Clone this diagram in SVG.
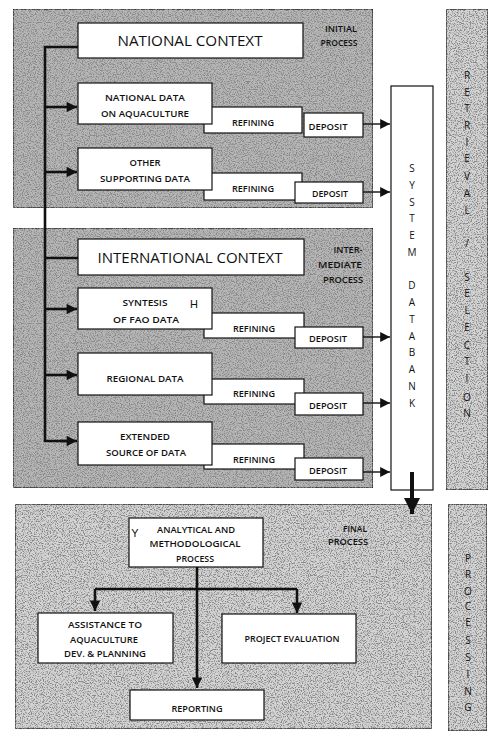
<svg xmlns="http://www.w3.org/2000/svg" width="500" height="741" viewBox="0 0 500 741">
<defs>
<filter id="grain" x="0" y="0" width="100%" height="100%">
<feTurbulence type="fractalNoise" baseFrequency="0.85" numOctaves="2" seed="7" result="n"/>
<feColorMatrix in="n" type="matrix" values="0 0 0 0 0.25  0 0 0 0 0.25  0 0 0 0 0.25  -5 0 0 0 2.7" result="dots"/>
<feComposite in="dots" in2="SourceGraphic" operator="in" result="d2"/>
<feMerge><feMergeNode in="SourceGraphic"/><feMergeNode in="d2"/></feMerge>
</filter>
<marker id="ah" viewBox="0 0 10 10" refX="10" refY="5" markerWidth="5" markerHeight="4" markerUnits="strokeWidth" orient="auto">
<path d="M0,0 L10,5 L0,10 z" fill="#111"/>
</marker>
<marker id="ahs" viewBox="0 0 10 10" refX="10" refY="5" markerWidth="8" markerHeight="7" markerUnits="strokeWidth" orient="auto">
<path d="M0,0 L10,5 L0,10 z" fill="#111"/>
</marker>
<style>
.panel{fill:#b6b6b6;stroke:#222;stroke-width:1.5;filter:url(#grain)}
.panelL{fill:#d4d4d4;stroke:#222;stroke-width:1.5;filter:url(#grain)}
.box{fill:#fff;stroke:#111;stroke-width:1.2}
.t{font-family:"Open Sans","Noto Sans","Liberation Sans",sans-serif;fill:#111;text-anchor:middle;font-weight:600}
.big{font-size:15px;font-weight:400}
.sm{font-size:8.5px}
.xs{font-size:8px}
.col{font-size:10px;font-weight:400}
.thick{stroke:#111;stroke-width:2.6;fill:none}
.thin{stroke:#111;stroke-width:1.4;fill:none}
.mark{font-family:"Liberation Sans",sans-serif;font-size:11px;fill:#111;text-anchor:middle}
</style>
</defs>

<g id="panel-initial">
<rect class="panel" x="13" y="9" width="360" height="199"/>
<text class="t xs" x="341" y="32" textLength="32" lengthAdjust="spacingAndGlyphs">INITIAL</text>
<text class="t xs" x="339" y="46" textLength="37" lengthAdjust="spacingAndGlyphs">PROCESS</text>
</g>
<g id="panel-intermediate">
<rect class="panel" x="13" y="228" width="360" height="260"/>
<text class="t xs" x="348" y="253" textLength="29" lengthAdjust="spacingAndGlyphs">INTER-</text>
<text class="t xs" x="340" y="268" textLength="44" lengthAdjust="spacingAndGlyphs">MEDIATE</text>
<text class="t xs" x="343" y="283" textLength="40" lengthAdjust="spacingAndGlyphs">PROCESS</text>
</g>
<g id="panel-final">
<rect class="panelL" x="15" y="504" width="417" height="225"/>
<text class="t xs" x="355" y="532" textLength="24" lengthAdjust="spacingAndGlyphs">FINAL</text>
<text class="t xs" x="348" y="545" textLength="40" lengthAdjust="spacingAndGlyphs">PROCESS</text>
</g>

<g id="retrieval-selection">
<rect class="panelL" x="446" y="9" width="42" height="481"/>
<g class="t col">
<text x="467" y="79">R</text><text x="467" y="96">E</text><text x="467" y="112">T</text><text x="467" y="129">R</text><text x="467" y="146">I</text><text x="467" y="162">E</text><text x="467" y="180">V</text><text x="467" y="197">A</text><text x="467" y="214">L</text><text x="467" y="247">/</text><text x="467" y="281">S</text><text x="467" y="297">E</text><text x="467" y="314">L</text><text x="467" y="331">E</text><text x="467" y="349">C</text><text x="467" y="365">T</text><text x="467" y="382">I</text><text x="467" y="401">O</text><text x="467" y="417">N</text>
</g>
</g>
<g id="processing">
<rect class="panelL" x="448" y="504" width="39" height="227"/>
<g class="t col">
<text x="468" y="562">P</text><text x="468" y="578">R</text><text x="468" y="595">O</text><text x="468" y="610">C</text><text x="468" y="626">E</text><text x="468" y="644">S</text><text x="468" y="661">S</text><text x="468" y="678">I</text><text x="468" y="695">N</text><text x="468" y="711">G</text>
</g>
</g>

<g id="databank">
<rect class="box" x="391" y="86" width="42" height="404"/>
<g class="t col">
<text x="412" y="172">S</text><text x="412" y="189">Y</text><text x="412" y="206">S</text><text x="412" y="222">T</text><text x="412" y="239">E</text><text x="412" y="256">M</text><text x="412" y="289">D</text><text x="412" y="306">A</text><text x="412" y="323">T</text><text x="412" y="340">A</text><text x="412" y="356">B</text><text x="412" y="373">A</text><text x="412" y="390">N</text><text x="412" y="407">K</text>
</g>
</g>

<g id="connectors">
<polyline class="thick" points="78,47 45,47 45,441 66,441"/>
<line class="thick" x1="45" y1="258" x2="78" y2="258"/>
<line class="thick" x1="45" y1="107" x2="77" y2="107" marker-end="url(#ah)"/>
<line class="thick" x1="45" y1="172" x2="77" y2="172" marker-end="url(#ah)"/>
<line class="thick" x1="45" y1="309" x2="77" y2="309" marker-end="url(#ah)"/>
<line class="thick" x1="45" y1="375" x2="77" y2="375" marker-end="url(#ah)"/>
<line class="thick" x1="60" y1="441" x2="77" y2="441" marker-end="url(#ah)"/>
<line class="thin" x1="363" y1="124" x2="390" y2="124" marker-end="url(#ahs)"/>
<line class="thin" x1="363" y1="192" x2="390" y2="192" marker-end="url(#ahs)"/>
<line class="thin" x1="363" y1="337" x2="390" y2="337" marker-end="url(#ahs)"/>
<line class="thin" x1="363" y1="403" x2="390" y2="403" marker-end="url(#ahs)"/>
<line class="thin" x1="363" y1="472" x2="390" y2="472" marker-end="url(#ahs)"/>
<line x1="412" y1="472" x2="412" y2="514" stroke="#111" stroke-width="4" marker-end="url(#ah)"/>
<line class="thick" x1="197" y1="567" x2="197" y2="688" marker-end="url(#ah)"/>
<line class="thick" x1="95" y1="589" x2="297" y2="589"/>
<line class="thick" x1="95" y1="589" x2="95" y2="611" marker-end="url(#ah)"/>
<line class="thick" x1="297" y1="589" x2="297" y2="613" marker-end="url(#ah)"/>
</g>

<g id="national-context">
<rect class="box" x="78" y="23" width="225" height="35"/>
<text class="t big" x="190" y="46" textLength="145" lengthAdjust="spacingAndGlyphs">NATIONAL CONTEXT</text>
</g>
<g id="refining-1">
<rect class="box" x="204" y="107" width="98" height="26"/>
<text class="t sm" x="253" y="126" textLength="42" lengthAdjust="spacingAndGlyphs">REFINING</text>
</g>
<g id="deposit-1">
<rect class="box" x="304" y="113" width="59" height="24"/>
<text class="t sm" x="328" y="130" textLength="39" lengthAdjust="spacingAndGlyphs">DEPOSIT</text>
</g>
<g id="national-data">
<rect class="box" x="78" y="83" width="134" height="41"/>
<text class="t sm" x="145" y="101" textLength="80" lengthAdjust="spacingAndGlyphs">NATIONAL DATA</text>
<text class="t sm" x="145" y="117" textLength="88" lengthAdjust="spacingAndGlyphs">ON AQUACULTURE</text>
</g>
<g id="refining-2">
<rect class="box" x="204" y="173" width="98" height="27"/>
<text class="t sm" x="253" y="192" textLength="42" lengthAdjust="spacingAndGlyphs">REFINING</text>
</g>
<g id="deposit-2">
<rect class="box" x="295" y="182" width="68" height="21"/>
<text class="t sm" x="330" y="197" textLength="36" lengthAdjust="spacingAndGlyphs">DEPOSIT</text>
</g>
<g id="other-data">
<rect class="box" x="78" y="148" width="134" height="42"/>
<text class="t sm" x="145" y="166" textLength="31" lengthAdjust="spacingAndGlyphs">OTHER</text>
<text class="t sm" x="145" y="182" textLength="90" lengthAdjust="spacingAndGlyphs">SUPPORTING DATA</text>
</g>

<g id="international-context">
<rect class="box" x="78" y="239" width="226" height="36"/>
<text class="t big" x="190" y="263" textLength="185" lengthAdjust="spacingAndGlyphs">INTERNATIONAL CONTEXT</text>
</g>
<g id="refining-3">
<rect class="box" x="204" y="313" width="100" height="25"/>
<text class="t sm" x="254" y="332" textLength="42" lengthAdjust="spacingAndGlyphs">REFINING</text>
</g>
<g id="deposit-3">
<rect class="box" x="295" y="327" width="68" height="21"/>
<text class="t sm" x="328" y="342" textLength="38" lengthAdjust="spacingAndGlyphs">DEPOSIT</text>
</g>
<g id="syntesis">
<rect class="box" x="78" y="288" width="134" height="41"/>
<text class="t sm" x="145" y="306" textLength="45" lengthAdjust="spacingAndGlyphs">SYNTESIS</text>
<text class="t sm" x="146" y="323" textLength="66" lengthAdjust="spacingAndGlyphs">OF FAO DATA</text>
<text class="mark" x="194" y="308">H</text>
</g>
<g id="refining-4">
<rect class="box" x="204" y="379" width="100" height="25"/>
<text class="t sm" x="254" y="397" textLength="42" lengthAdjust="spacingAndGlyphs">REFINING</text>
</g>
<g id="deposit-4">
<rect class="box" x="295" y="393" width="68" height="22"/>
<text class="t sm" x="328" y="409" textLength="38" lengthAdjust="spacingAndGlyphs">DEPOSIT</text>
</g>
<g id="regional-data">
<rect class="box" x="78" y="353" width="134" height="42"/>
<text class="t sm" x="145" y="382" textLength="77" lengthAdjust="spacingAndGlyphs">REGIONAL DATA</text>
</g>
<g id="refining-5">
<rect class="box" x="204" y="444" width="100" height="25"/>
<text class="t sm" x="254" y="463" textLength="42" lengthAdjust="spacingAndGlyphs">REFINING</text>
</g>
<g id="deposit-5">
<rect class="box" x="295" y="458" width="68" height="22"/>
<text class="t sm" x="328" y="474" textLength="38" lengthAdjust="spacingAndGlyphs">DEPOSIT</text>
</g>
<g id="extended-source">
<rect class="box" x="78" y="422" width="134" height="43"/>
<text class="t sm" x="145" y="440" textLength="50" lengthAdjust="spacingAndGlyphs">EXTENDED</text>
<text class="t sm" x="146" y="456" textLength="80" lengthAdjust="spacingAndGlyphs">SOURCE OF DATA</text>
</g>

<g id="analytical">
<rect class="box" x="129" y="518" width="134" height="49"/>
<text class="t sm" x="196" y="533" textLength="78" lengthAdjust="spacingAndGlyphs">ANALYTICAL AND</text>
<text class="t sm" x="195" y="547" textLength="91" lengthAdjust="spacingAndGlyphs">METHODOLOGICAL</text>
<text class="t sm" x="195" y="562" textLength="38" lengthAdjust="spacingAndGlyphs">PROCESS</text>
<text class="mark" x="135" y="537">Y</text>
</g>
<g id="assistance">
<rect class="box" x="38" y="613" width="135" height="50"/>
<text class="t sm" x="105" y="628" textLength="74" lengthAdjust="spacingAndGlyphs">ASSISTANCE TO</text>
<text class="t sm" x="104" y="643" textLength="68" lengthAdjust="spacingAndGlyphs">AQUACULTURE</text>
<text class="t sm" x="105" y="657" textLength="82" lengthAdjust="spacingAndGlyphs">DEV. &amp; PLANNING</text>
</g>
<g id="project-evaluation">
<rect class="box" x="222" y="614" width="134" height="49"/>
<text class="t sm" x="292" y="642" textLength="95" lengthAdjust="spacingAndGlyphs">PROJECT EVALUATION</text>
</g>
<g id="reporting">
<rect class="box" x="130" y="690" width="134" height="30"/>
<text class="t sm" x="197" y="712" textLength="51" lengthAdjust="spacingAndGlyphs">REPORTING</text>
</g>
</svg>
